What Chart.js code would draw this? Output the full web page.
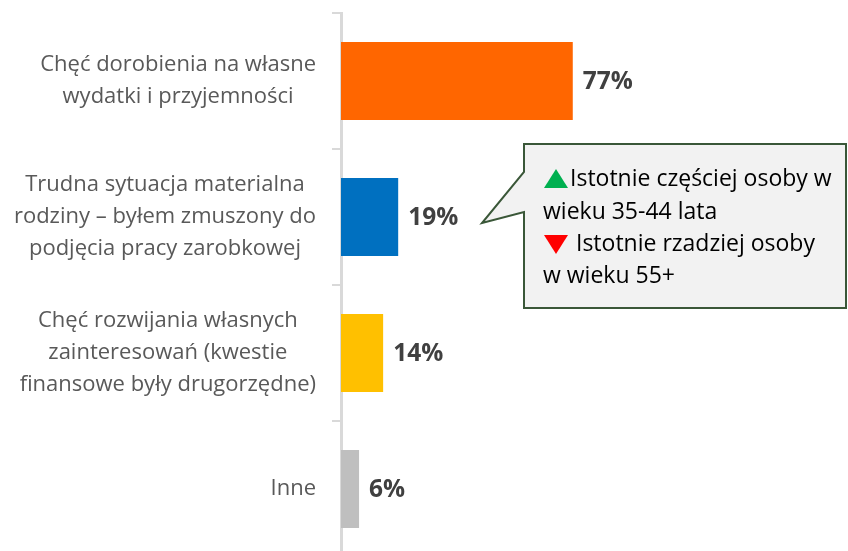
<!DOCTYPE html>
<html>
<head>
<meta charset="utf-8">
<script src="https://cdn.jsdelivr.net/npm/chart.js@4/dist/chart.umd.min.js"></script>
<style>
  html, body { margin: 0; padding: 0; background: #fff; overflow: hidden; }
  #wrap { width: 848px; height: 560px; }
</style>
</head>
<body>
<div id="wrap"><canvas id="reasonsChart" width="848" height="560"></canvas></div>
<script>
const categories = [
    ['Chęć dorobienia na własne', 'wydatki i przyjemności'],
    ['Trudna sytuacja materialna', 'rodziny – byłem zmuszony do', 'podjęcia pracy zarobkowej'],
    ['Chęć rozwijania własnych', 'zainteresowań (kwestie', 'finansowe były drugorzędne)'],
    ['Inne']
];
const values = [77, 19, 14, 6];
const barColors = ['#ff6600', '#0070c0', '#ffc000', '#bfbfbf'];
const calloutLines = [
    { mark: 'up', text: 'Istotnie częściej osoby w' },
    { mark: null, text: 'wieku 35-44 lata' },
    { mark: 'down', text: ' Istotnie rzadziej osoby' },
    { mark: null, text: 'w wieku 55+' }
];

// category labels: each block right-aligned to the axis, lines centred inside the block
const categoryLabels = {
    id: 'categoryLabels',
    afterDraw(chart) {
        const ctx = chart.ctx;
        const yScale = chart.scales.y;
        const rightEdge = yScale.right - 25;
        const lineH = 32;
        ctx.save();
        ctx.font = '22px "Open Sans"';
        ctx.fillStyle = '#595959';
        ctx.textAlign = 'center';
        ctx.textBaseline = 'middle';
        categories.forEach((lines, i) => {
            const widest = Math.max(...lines.map(l => ctx.measureText(l).width));
            const cx = rightEdge - widest / 2;
            const cy = yScale.getPixelForTick(i);
            lines.forEach((l, j) => {
                ctx.fillText(l, cx, cy + (j - (lines.length - 1) / 2) * lineH);
            });
        });
        ctx.restore();
    }
};

// value labels at the end of each bar
const valueLabels = {
    id: 'valueLabels',
    afterDatasetsDraw(chart) {
        const ctx = chart.ctx;
        const meta = chart.getDatasetMeta(0);
        ctx.save();
        ctx.font = 'bold 24.5px "Open Sans"';
        ctx.fillStyle = '#404040';
        ctx.textBaseline = 'middle';
        meta.data.forEach((bar, i) => {
            ctx.fillText(values[i] + '%', bar.x + 10, bar.y + 1);
        });
        ctx.restore();
    }
};

// speech-bubble note next to the second bar
const callout = {
    id: 'callout',
    afterDraw(chart) {
        const ctx = chart.ctx;
        const left = 524, top = 144, right = 846, bottom = 308;
        ctx.save();
        ctx.beginPath();
        ctx.moveTo(left, top);
        ctx.lineTo(right, top);
        ctx.lineTo(right, bottom);
        ctx.lineTo(left, bottom);
        ctx.lineTo(left, 212);
        ctx.lineTo(482, 223);
        ctx.lineTo(left, 172);
        ctx.closePath();
        ctx.fillStyle = '#f2f2f2';
        ctx.fill();
        ctx.lineWidth = 2;
        ctx.strokeStyle = '#3a5738';
        ctx.stroke();

        ctx.font = '23px "Open Sans"';
        ctx.fillStyle = '#000';
        ctx.textBaseline = 'middle';
        const ys = [179, 212, 244, 276];
        calloutLines.forEach((line, i) => {
            let x = 543;
            const y = ys[i];
            if (line.mark === 'up') {
                ctx.beginPath();
                ctx.moveTo(544, y + 9);
                ctx.lineTo(556, y - 10);
                ctx.lineTo(568, y + 9);
                ctx.closePath();
                ctx.fillStyle = '#00b050';
                ctx.fill();
                x = 570;
            } else if (line.mark === 'down') {
                ctx.beginPath();
                ctx.moveTo(544, y - 9);
                ctx.lineTo(568, y - 9);
                ctx.lineTo(556, y + 10);
                ctx.closePath();
                ctx.fillStyle = '#ff0000';
                ctx.fill();
                x = 570;
            }
            ctx.fillStyle = '#000';
            ctx.fillText(line.text, x, y);
        });
        ctx.restore();
    }
};

const ctx = document.getElementById('reasonsChart').getContext('2d');

new Chart(ctx, {
    type: 'bar',
    data: {
        labels: categories,
        datasets: [{
            data: values,
            backgroundColor: barColors,
            borderWidth: 0,
            categoryPercentage: 1,
            barPercentage: 0.574
        }]
    },
    options: {
        indexAxis: 'y',
        responsive: false,
        animation: false,
        layout: { padding: { top: 13, right: 206, bottom: 3, left: 0 } },
        plugins: {
            legend: { display: false },
            tooltip: { enabled: false }
        },
        scales: {
            x: {
                display: false,
                min: 0,
                max: 100
            },
            y: {
                afterFit(scale) {
                    scale.width = 341;
                    scale.paddingTop = 0;
                    scale.paddingBottom = 0;
                },
                border: { display: true, color: '#d9d9d9', width: 3 },
                grid: {
                    display: true,
                    offset: true,
                    drawOnChartArea: false,
                    drawTicks: true,
                    tickLength: 9,
                    color: '#d9d9d9',
                    lineWidth: 2
                },
                ticks: { display: false }
            }
        }
    },
    plugins: [categoryLabels, valueLabels, callout]
});
</script>
</body>
</html>
